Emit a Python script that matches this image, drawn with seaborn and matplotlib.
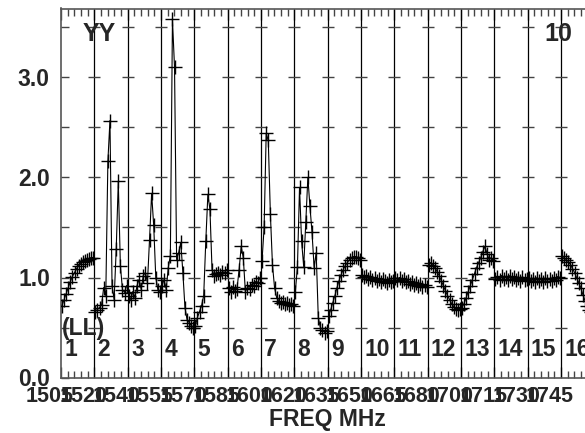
import numpy as np
import pandas as pd
import matplotlib
matplotlib.use("Agg")
import matplotlib.pyplot as plt
import matplotlib.transforms as mtransforms
import seaborn as sns

# ---------------- data ----------------
if_numbers = list(range(1, 17))
freq_labels = ["1505", "1520", "1540", "1555", "1570", "1585", "1600", "1620",
               "1635", "1650", "1665", "1680", "1700", "1715", "1730", "1745"]

if01 = [0.72, 0.78, 0.84, 0.90, 0.96, 1.01, 1.05, 1.09, 1.12, 1.14, 1.16, 1.17, 1.18, 1.19, 1.20, 1.20]
if02 = [0.66, 0.68, 0.70, 0.73, 0.90, 0.82, 2.16, 2.57, 0.92, 0.78, 1.28, 1.96, 1.12, 0.88, 0.85, 0.92]
if03 = [0.82, 0.78, 0.86, 0.80, 0.92, 0.98, 0.88, 1.02, 1.05, 0.95, 1.38, 1.84, 1.52, 1.00, 0.88, 0.86]
if04 = [0.92, 0.98, 0.88, 1.10, 1.22, 3.58, 3.10, 1.18, 1.25, 1.35, 1.05, 0.70, 0.58, 0.55, 0.52, 0.50]
if05 = [0.52, 0.60, 0.66, 0.72, 0.82, 1.36, 1.83, 1.68, 1.08, 1.02, 1.04, 1.05, 1.03, 1.06, 1.05, 1.08]
if06 = [0.90, 0.86, 0.91, 0.87, 0.89, 1.08, 1.31, 1.20, 0.86, 0.90, 0.89, 0.93, 0.92, 0.96, 0.95, 1.00]
if07 = [1.17, 1.50, 2.44, 2.37, 1.64, 1.13, 0.90, 0.80, 0.77, 0.75, 0.76, 0.74, 0.75, 0.73, 0.74, 0.72]
if08 = [0.86, 1.11, 1.90, 1.36, 1.11, 1.55, 2.00, 1.71, 1.45, 1.10, 1.25, 0.60, 0.50, 0.48, 0.45, 0.47]
if09 = [0.62, 0.68, 0.75, 0.82, 0.90, 0.97, 1.03, 1.08, 1.12, 1.15, 1.18, 1.20, 1.21, 1.21, 1.20, 1.18]
if10 = [1.03, 1.01, 1.02, 0.99, 1.01, 0.98, 1.00, 0.97, 0.99, 0.96, 0.99, 0.97, 0.95, 0.98, 0.96, 0.97]
if11 = [1.00, 0.98, 1.00, 0.97, 0.99, 0.96, 0.97, 0.94, 0.96, 0.93, 0.95, 0.92, 0.94, 0.91, 0.93, 0.91]
if12 = [1.13, 1.15, 1.12, 1.10, 1.06, 1.02, 0.97, 0.92, 0.87, 0.82, 0.78, 0.74, 0.71, 0.69, 0.68, 0.69]
if13 = [0.70, 0.74, 0.80, 0.86, 0.92, 0.98, 1.04, 1.10, 1.15, 1.20, 1.26, 1.31, 1.24, 1.18, 1.20, 1.17]
if14 = [0.99, 1.01, 0.98, 1.02, 0.99, 1.01, 0.98, 1.02, 0.99, 1.01, 0.98, 1.00, 0.97, 1.01, 0.98, 0.99]
if15 = [1.00, 0.97, 0.99, 0.96, 1.00, 0.97, 0.99, 0.96, 1.00, 0.97, 0.99, 0.97, 1.00, 0.98, 1.01, 1.00]
if16 = [1.22, 1.20, 1.18, 1.16, 1.13, 1.09, 1.05, 1.00, 0.95, 0.90, 0.83, 0.77, 0.72, 0.68, 0.66, 0.66]

all_ifs = [if01, if02, if03, if04, if05, if06, if07, if08,
           if09, if10, if11, if12, if13, if14, if15, if16]

# ---------------- build table ----------------
rows = []
for k, vals in enumerate(all_ifs):
    n = len(vals)
    for ch, v in enumerate(vals):
        rows.append({"IF": if_numbers[k], "x": k + (ch + 0.5) / n, "amp": v})
df = pd.DataFrame(rows)

# ---------------- figure ----------------
sns.set_theme(style="white")
plt.rcParams["font.family"] = ["Liberation Sans", "DejaVu Sans"]
plt.rcParams["font.weight"] = "bold"

fig = plt.figure(figsize=(5.85, 4.33), dpi=100)
ax = fig.add_axes([61 / 585, (433 - 377.5) / 433, 533.3 / 585, 369 / 433])

n_if = len(all_ifs)
ax.set_xlim(0, n_if)
ax.set_ylim(0, 3.69)

# IF separators
for k in range(1, n_if):
    ax.axvline(k, color="black", lw=0.9, zorder=1)
# short horizontal marks on every separator
ymarks = np.arange(0.5, 3.6, 0.5)
for k in range(1, n_if):
    ax.plot([k] * len(ymarks), ymarks, linestyle="none", marker="_",
            markersize=8.6, mew=1.0, color="#444444", zorder=1)

sns.lineplot(data=df, x="x", y="amp", units="IF", estimator=None,
             color="black", lw=0.8, marker="+", markersize=9.5,
             markeredgewidth=1.0, markeredgecolor="black", ax=ax,
             legend=False, zorder=3)

# axes styling
for side in ["left", "top", "bottom", "right"]:
    ax.spines[side].set_color("#555555")
    ax.spines[side].set_linewidth(1.2)

ax.set_yticks([0, 1, 2, 3])
ax.set_yticklabels(["0.0", "1.0", "2.0", "3.0"])
ax.set_yticks(np.arange(0.5, 3.6, 1.0), minor=True)
ax.tick_params(axis="y", which="both", direction="in", length=6, width=1,
               color="#444444", left=True, right=False, pad=8,
               labelsize=16.5)

ax.set_xticks(np.arange(0, n_if))
ax.set_xticklabels(freq_labels)
ax.set_xticks(np.arange(0, n_if, 0.2), minor=True)
ax.tick_params(axis="x", which="major", direction="in", length=8, width=1,
               color="#444444", top=True, bottom=True, pad=6, labelsize=15.5)
ax.tick_params(axis="x", which="minor", direction="in", length=5, width=1,
               color="#444444", top=True, bottom=True)
shift = mtransforms.ScaledTranslation(-11 / 100, 0, fig.dpi_scale_trans)
for lab in ax.get_xticklabels():
    lab.set_transform(lab.get_transform() + shift)
    lab.set_fontweight("bold")
for lab in ax.get_yticklabels():
    lab.set_fontweight("bold")

ax.set_xlabel("FREQ MHz", fontsize=16.5, fontweight="bold", labelpad=1)
ax.set_ylabel("")

# text annotations
ax.text(1.14, 3.435, "YY", fontsize=18, fontweight="bold",
        ha="center", va="center")
ax.text(15.33, 3.435, "10", fontsize=18, fontweight="bold",
        ha="right", va="center")
ax.text(0.03, 0.495, "(LL)", fontsize=16.5, fontweight="bold",
        ha="left", va="center")
for k, num in enumerate(if_numbers):
    ax.text(k + 0.1, 0.275, str(num), fontsize=16.5, fontweight="bold",
            ha="left", va="center", clip_on=False)

fig.savefig("out.png", dpi=100)
